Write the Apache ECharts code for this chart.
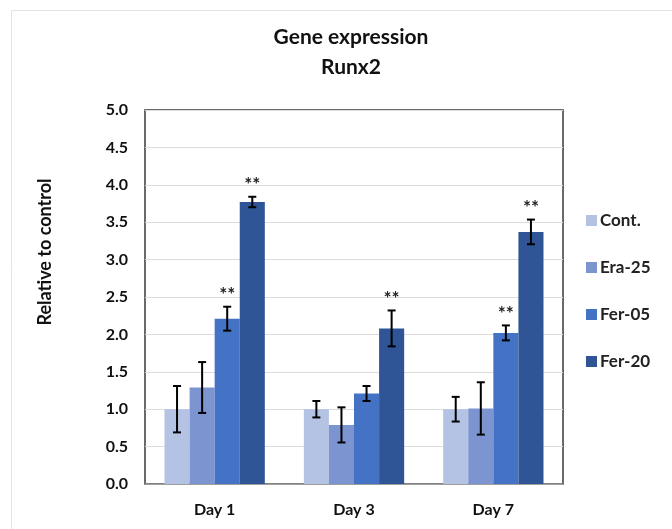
<!DOCTYPE html>
<html>
<head>
<meta charset="utf-8">
<script src="https://cdn.jsdelivr.net/npm/echarts@6/dist/echarts.min.js"></script>
<style>
  html, body { margin: 0; padding: 0; background: #fff; }
  #chart { width: 672px; height: 529px; }
</style>
</head>
<body>
<div id="chart"></div>
<script>
// Runx2 expression, relative to control, per day and treatment
const days = ['Day 1', 'Day 3', 'Day 7'];
const groups = ['Cont.', 'Era-25', 'Fer-05', 'Fer-20'];
const contMean  = [1.00, 1.00, 1.00];
const era25Mean = [1.29, 0.79, 1.01];
const fer05Mean = [2.21, 1.21, 2.02];
const fer20Mean = [3.77, 2.08, 3.37];
const contErr  = [0.31, 0.11, 0.165];
const era25Err = [0.34, 0.235, 0.35];
const fer05Err = [0.16, 0.10, 0.10];
const fer20Err = [0.07, 0.24, 0.165];
// "**" significance markers
const contSig  = [false, false, false];
const era25Sig = [false, false, false];
const fer05Sig = [true, false, true];
const fer20Sig = [true, true, true];
const yTicks = ['0.0', '0.5', '1.0', '1.5', '2.0', '2.5', '3.0', '3.5', '4.0', '4.5', '5.0'];

const means = [contMean, era25Mean, fer05Mean, fer20Mean];
const errs = [contErr, era25Err, fer05Err, fer20Err];
const sigs = [contSig, era25Sig, fer05Sig, fer20Sig];
const colors = ['#b4c2e4', '#7c95d1', '#4472c4', '#2f5597'];

const FONT = 'Lato, "Open Sans", sans-serif';
const GAP = 0.28; // category gap fraction

const chart = echarts.init(document.getElementById('chart'));

const barSeries = groups.map((g, i) => ({
  name: g,
  type: 'bar',
  data: means[i],
  barGap: '0%',
  barCategoryGap: (GAP * 100) + '%',
  itemStyle: { color: colors[i] },
  z: 2
}));

const errSeries = groups.map((g, i) => ({
  type: 'custom',
  name: g + ' err',
  data: days.map((d, k) => [k, means[i][k], errs[i][k], sigs[i][k] ? 1 : 0]),
  z: 5,
  silent: true,
  renderItem: function (params, api) {
    const k = api.value(0);
    const m = api.value(1);
    const e = api.value(2);
    const band = api.size([1, 0])[0];
    const bw = band * (1 - GAP) / groups.length;
    const cx = api.coord([k, m])[0] + (i - (groups.length - 1) / 2) * bw;
    const yTop = api.coord([k, m + e])[1];
    const yBot = api.coord([k, m - e])[1];
    const cap = 4;
    const st = { stroke: '#000', lineWidth: 2 };
    const children = [
      { type: 'line', shape: { x1: cx, y1: yTop, x2: cx, y2: yBot }, style: st },
      { type: 'line', shape: { x1: cx - cap, y1: yTop, x2: cx + cap, y2: yTop }, style: st },
      { type: 'line', shape: { x1: cx - cap, y1: yBot, x2: cx + cap, y2: yBot }, style: st }
    ];
    if (api.value(3)) {
      children.push({
        type: 'text',
        style: {
          text: '**', x: cx, y: yTop - 2,
          align: 'center', verticalAlign: 'bottom',
          fill: '#222', font: 'bold 19px ' + FONT
        }
      });
    }
    return { type: 'group', children: children };
  }
}));

chart.setOption({
  animation: false,
  backgroundColor: '#fff',
  title: {
    text: 'Gene expression\nRunx2',
    left: 346,
    top: 17,
    textAlign: 'center',
    textStyle: {
      fontFamily: FONT, fontWeight: 'bold', fontSize: 21,
      color: '#111', lineHeight: 30
    }
  },
  legend: {
    orient: 'vertical',
    left: 581,
    top: 207,
    itemWidth: 11,
    itemHeight: 11,
    itemGap: 30,
    icon: 'rect',
    data: groups,
    textStyle: { fontFamily: FONT, fontWeight: 'bold', fontSize: 17, color: '#222', padding: [0, 0, 0, -2] }
  },
  graphic: [
    {
      type: 'rect',
      shape: { x: 11.5, y: 10.5, width: 700, height: 560 },
      style: { fill: 'none', stroke: '#e3e3e3', lineWidth: 1 },
      silent: true, z: -1
    },
    {
      type: 'text',
      x: 45, y: 252,
      rotation: Math.PI / 2,
      style: {
        text: 'Relative to control',
        align: 'center', verticalAlign: 'middle',
        font: 'bold 18px ' + FONT, fill: '#111'
      }
    }
  ],
  grid: {
    left: 145, right: 109, top: 110, bottom: 45,
    show: true, borderColor: '#3a3a3a', borderWidth: 1.5,
    containLabel: false
  },
  xAxis: {
    type: 'category',
    data: days,
    axisTick: { show: false },
    axisLine: { show: true, lineStyle: { color: '#8a8a8a', width: 1.5 } },
    axisLabel: {
      margin: 18, fontFamily: FONT, fontWeight: 'bold', fontSize: 16, color: '#111'
    }
  },
  yAxis: {
    type: 'value',
    min: 0, max: 5, interval: 0.5,
    axisLine: { show: false },
    axisTick: { show: false },
    splitLine: { lineStyle: { color: '#dcdcdc', width: 1 } },
    axisLabel: {
      margin: 17, fontFamily: FONT, fontWeight: 'bold', fontSize: 16, color: '#111',
      formatter: function (v) { return yTicks[Math.round(v * 2)]; }
    }
  },
  series: barSeries.concat(errSeries)
});
</script>
</body>
</html>
